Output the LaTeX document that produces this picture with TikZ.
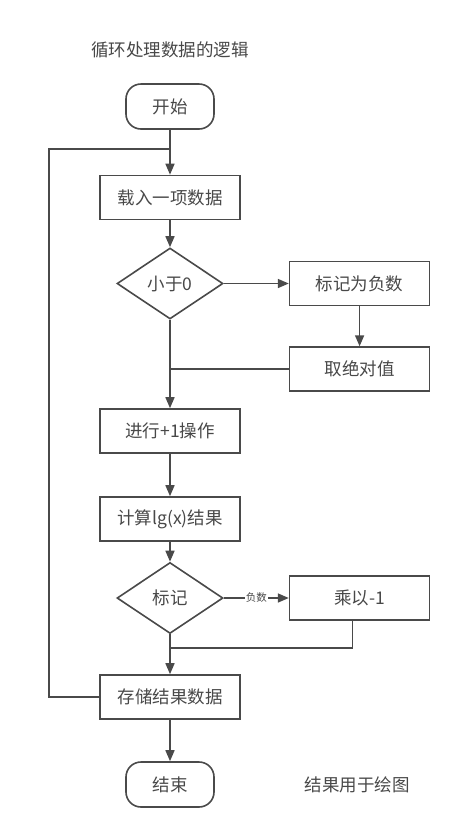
\documentclass[tikz,border=0pt]{standalone}
\usepackage{fontspec}
\setmainfont{Noto Sans CJK SC}
\usepackage{xcolor}
\usetikzlibrary{shapes.geometric, arrows.meta, positioning, calc}
\definecolor{FlowGrey}{HTML}{4A4A4A}
\definecolor{TextGrey}{HTML}{484848}

\begin{document}
\begin{tikzpicture}[x=1pt, y=-1pt, >={Triangle[length=11pt,width=9pt]}, every node/.style={text=TextGrey, font=\fontsize{17.5}{20}\selectfont}]
    \tikzstyle{block} = [rectangle, draw=FlowGrey, line width=1.6pt, minimum width=140pt, minimum height=44pt, align=center]
    \tikzstyle{terminal} = [rectangle, draw=FlowGrey, line width=1.6pt, minimum width=88pt, minimum height=45pt, rounded corners=15pt]
    \tikzstyle{decision} = [diamond, draw=FlowGrey, line width=1.6pt, minimum width=106pt, minimum height=71pt, inner sep=0pt]
    \tikzstyle{line} = [draw=FlowGrey, line width=1.6pt]
    \useasboundingbox (0,0) rectangle (464,823);

    \node (title) at (170,50) {循环处理数据的逻辑};
    \node [terminal] (start) at (170,106.5) {开始};
    \node [block] (load) at (170,197.5) {载入一项数据};
    \node [decision] (isneg) at (170,283.5) {小于0};
    \node [block, right=65pt of isneg] (mark) {标记为负数};
    \node [block, below=40pt of mark] (abs) {取绝对值};
    \node [block] (plusone) at (170,431) {进行+1操作};
    \node [block] (lg) at (170,519) {计算lg(x)结果};
    \node [decision] (flag) at (170,598) {标记};
    \node [block, right=65pt of flag] (negate) {乘以-1};
    \node [block] (store) at (170,697) {存储结果数据};
    \node [terminal] (stop) at (170,784.5) {结束};
    \node (note) at (357,785) {结果用于绘图};

    \coordinate (loopin) at (170,149);
    \coordinate (negin) at (170,648);

    \path [line, ->] (start) -- (load);
    \path [line, ->] (load) -- (isneg);
    \path [line, ->] (isneg) -- (mark);
    \path [line, ->] (mark) -- (abs);
    \path [line] (abs.west) -- (abs.west -| isneg);
    \path [line, ->] (isneg) -- (plusone);
    \path [line, ->] (plusone) -- (lg);
    \path [line, ->] (lg) -- (flag);
    \path [line, ->] (flag) -- node [fill=white, inner sep=1pt, font=\fontsize{10.5}{12}\selectfont] {负数} (negate);
    \path [line] ([xshift=-7pt]negate.south) |- (negin);
    \path [line, ->] (flag) -- (store);
    \path [line, ->] (store) -- (stop);
    \path [line] (store.west) -| (49,149) -- (loopin);
\end{tikzpicture}
\end{document}
